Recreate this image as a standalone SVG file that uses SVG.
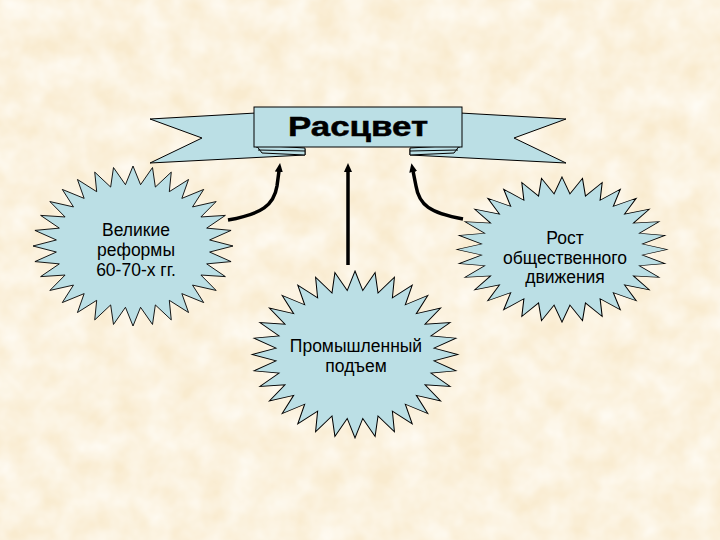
<svg xmlns="http://www.w3.org/2000/svg" xmlns:xlink="http://www.w3.org/1999/xlink" width="720" height="540" viewBox="0 0 720 540">
  <style>
    .shape { fill: #BBDFE5; stroke: #000; stroke-width: 1; stroke-linejoin: miter; }
    .star { fill: #BBDFE5; stroke: #000; stroke-width: 1; vector-effect: non-scaling-stroke; }
    .lbl { font-family: "Liberation Sans", Arial, sans-serif; font-size: 17.5px; fill: #000; text-anchor: middle; }
    .title { font-family: "Liberation Sans", Arial, sans-serif; font-size: 28px; font-weight: bold; fill: #000; stroke: #000; stroke-width: 0.5; text-anchor: middle; }
    .conn { fill: none; stroke: #000; stroke-width: 3.5; stroke-linecap: butt; marker-end: url(#ah); }
  </style>
  <defs>
    <filter id="tex" x="0" y="0" width="100%" height="100%">
      <feTurbulence type="fractalNoise" baseFrequency="0.035" numOctaves="3" seed="5"/>
      <feColorMatrix type="matrix" values="0 0 0 0 1  0 0 0 0 0.98  0 0 0 0 0.93  1.2 0 0 0 -0.2"/>
    </filter>
    <marker id="ah" viewBox="0 0 9 8" markerWidth="9" markerHeight="8" markerUnits="userSpaceOnUse" refX="1" refY="4" orient="auto">
      <path d="M0,0 L9,4 L0,8 Z" fill="#000"/>
    </marker>
    <polygon id="star32" points="0,-100 7.55,-76.63 19.51,-98.08 22.35,-73.68 38.27,-92.39 36.30,-67.91 55.56,-83.15 48.85,-59.52 70.71,-70.71 59.52,-48.85 83.15,-55.56 67.91,-36.30 92.39,-38.27 73.68,-22.35 98.08,-19.51 76.63,-7.55 100,0 76.63,7.55 98.08,19.51 73.68,22.35 92.39,38.27 67.91,36.30 83.15,55.56 59.52,48.85 70.71,70.71 48.85,59.52 55.56,83.15 36.30,67.91 38.27,92.39 22.35,73.68 19.51,98.08 7.55,76.63 0,100 -7.55,76.63 -19.51,98.08 -22.35,73.68 -38.27,92.39 -36.30,67.91 -55.56,83.15 -48.85,59.52 -70.71,70.71 -59.52,48.85 -83.15,55.56 -67.91,36.30 -92.39,38.27 -73.68,22.35 -98.08,19.51 -76.63,7.55 -100,0 -76.63,-7.55 -98.08,-19.51 -73.68,-22.35 -92.39,-38.27 -67.91,-36.30 -83.15,-55.56 -59.52,-48.85 -70.71,-70.71 -48.85,-59.52 -55.56,-83.15 -36.30,-67.91 -38.27,-92.39 -22.35,-73.68 -19.51,-98.08 -7.55,-76.63"/>
  </defs>

  <rect x="0" y="0" width="720" height="540" fill="#F9EBCF"/>
  <rect x="0" y="0" width="720" height="540" filter="url(#tex)"/>

  <g id="connectors">
    <path class="conn" d="M228,220 C262,214 274,205 277,186 L279,171"/>
    <path class="conn" d="M348,265 L348,171"/>
    <path class="conn" d="M463,219 C430,213 419,205 416,186 L413,171"/>
  </g>

  <g id="ribbon">
    <polygon class="shape" points="150,119 256,113 256,147 305,149 305,155 150,163 202,138"/>
    <polygon class="shape" points="566,119 460,113 460,147 410,149 410,155 566,163 514,138"/>
    <polygon class="shape" points="256,145 305,148 305,155 262,153"/>
    <line x1="258" y1="150" x2="305" y2="151" stroke="#000" stroke-width="1"/>
    <polygon class="shape" points="460,145 410,148 410,155 454,153"/>
    <line x1="458" y1="150" x2="410" y2="151" stroke="#000" stroke-width="1"/>
    <rect class="shape" x="254" y="107" width="208" height="40"/>
    <text class="title" x="358" y="136" textLength="140" lengthAdjust="spacingAndGlyphs">Расцвет</text>
  </g>

  <g id="node-reforms">
    <use xlink:href="#star32" href="#star32" class="star" transform="translate(133,246) scale(1.0,0.80)"/>
    <text class="lbl" x="136" y="236">Великие</text>
    <text class="lbl" x="136" y="256">реформы</text>
    <text class="lbl" x="136" y="276">60-70-х гг.</text>
  </g>

  <g id="node-industry">
    <use xlink:href="#star32" href="#star32" class="star" transform="translate(355,354.5) scale(1.03,0.835)"/>
    <text class="lbl" x="356" y="352">Промышленный</text>
    <text class="lbl" x="356" y="372">подъем</text>
  </g>

  <g id="node-social">
    <use xlink:href="#star32" href="#star32" class="star" transform="translate(562,249.5) scale(1.05,0.725)"/>
    <text class="lbl" x="565" y="244">Рост</text>
    <text class="lbl" x="565" y="264">общественного</text>
    <text class="lbl" x="565" y="283">движения</text>
  </g>
</svg>
